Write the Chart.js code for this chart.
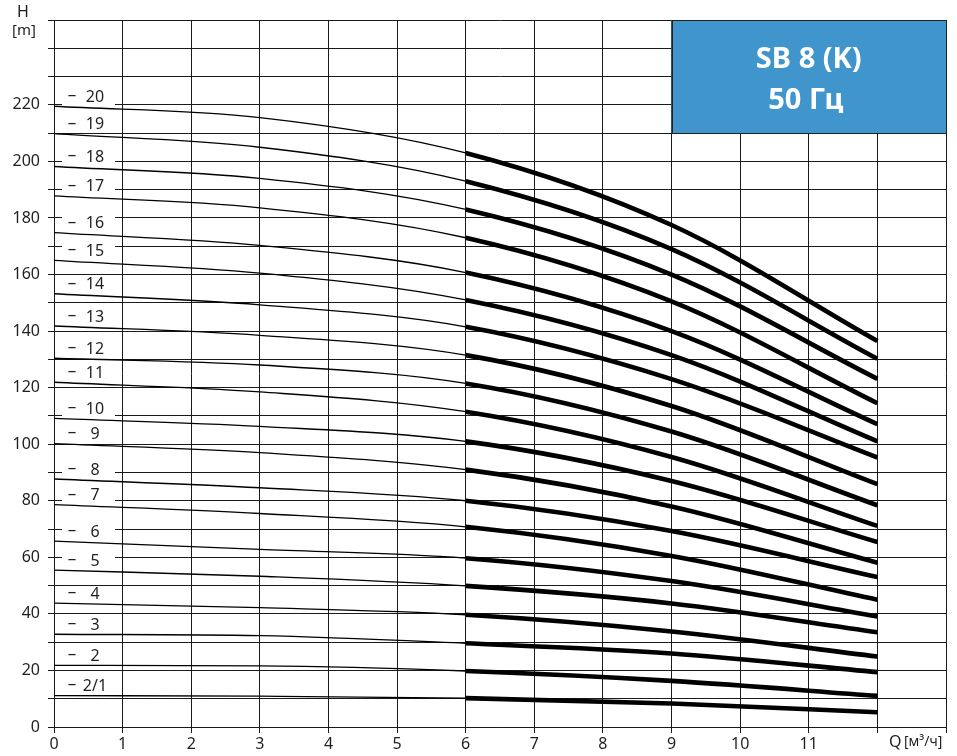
<!DOCTYPE html>
<html>
<head>
<meta charset="utf-8">
<script src="https://cdn.jsdelivr.net/npm/chart.js@4/dist/chart.umd.min.js"></script>
<style>
  html, body { margin: 0; padding: 0; background: #ffffff; }
  #wrap { width: 957px; height: 756px; position: relative; }
</style>
</head>
<body>
<div id="wrap"><canvas id="c" width="957" height="756"></canvas></div>
<script>
// ---- data ----
const flowQ = [0, 3, 6, 9, 12];           // Q [м³/ч] sample points
const stageLabels = ['20','19','18','17','16','15','14','13','12','11','10','9','8','7','6','5','4','3','2','2/1'];
const h20  = [219.5, 215.5, 203.0, 177.5, 136.5];
const h19  = [209.8, 205.0, 193.0, 169.0, 130.2];
const h18  = [198.2, 194.0, 183.0, 160.0, 123.1];
const h17  = [187.8, 183.6, 173.0, 150.5, 114.5];
const h16  = [174.8, 170.3, 160.7, 140.0, 107.1];
const h15  = [165.0, 160.5, 151.0, 131.5, 101.0];
const h14  = [153.2, 149.3, 141.5, 123.0, 95.3];
const h13  = [141.8, 138.5, 131.5, 113.5, 85.9];
const h12  = [130.4, 128.0, 121.5, 104.5, 78.4];
const h11  = [121.9, 118.5, 111.5, 95.5, 71.1];
const h10  = [109.1, 106.3, 101.0, 87.0, 65.4];
const h9   = [100.2, 97.0, 91.0, 78.0, 58.1];
const h8   = [87.7, 84.6, 80.0, 69.3, 53.0];
const h7   = [78.6, 75.5, 70.8, 60.5, 45.0];
const h6   = [65.7, 62.8, 59.7, 51.6, 39.1];
const h5   = [55.5, 53.3, 49.9, 43.7, 33.5];
const h4   = [43.8, 42.2, 39.7, 33.8, 24.9];
const h3   = [32.8, 32.3, 29.6, 26.0, 19.4];
const h2   = [21.8, 21.6, 19.8, 16.3, 11.0];
const h2_1 = [11.1, 10.9, 10.2, 8.3, 5.2];
const headSeries = [h20, h19, h18, h17, h16, h15, h14, h13, h12, h11, h10, h9, h8, h7, h6, h5, h4, h3, h2, h2_1];
const xTickLabels = [0,1,2,3,4,5,6,7,8,9,10,11];
const yTickLabels = [0,20,40,60,80,100,120,140,160,180,200,220];
const titleLines = ['SB 8 (K)', '50 Гц'];
const splitQ = 6; // thin line up to here, thick after

// ---- style ----
const FONT = '"Noto Sans", "Open Sans", "DejaVu Sans", sans-serif';
const INK = '#1f1f1f';
const GRID = '#1a1a1a';
const BLUE = '#3f95cc';

const datasets = headSeries.map((h, k) => ({
  label: stageLabels[k],
  data: flowQ.map((q, i) => ({ x: q, y: h[i] })),
  borderColor: '#000', borderWidth: 1.3, pointRadius: 0,
  cubicInterpolationMode: 'monotone', fill: false, borderCapStyle: 'butt',
  segment: {
    borderWidth: c => (c.p0.parsed.x >= splitQ ? 4.6 : 1.3)
  }
}));

const labelPlugin = {
  id: 'stageLabels',
  beforeDatasetsDraw(chart) {
    const ctx = chart.ctx;
    const xs = chart.scales.x, ys = chart.scales.y;
    const x0 = xs.getPixelForValue(0);
    ctx.save();
    headSeries.forEach((h, k) => {
      const yc = ys.getPixelForValue(h[0]) - 9;
      ctx.fillStyle = '#ffffff';
      ctx.fillRect(x0 + 8, yc - 8, 53, 16);
      ctx.fillStyle = INK;
      ctx.font = '17px ' + FONT;
      ctx.textAlign = 'center';
      ctx.textBaseline = 'middle';
      ctx.fillText('–', x0 + 18, yc - 2);
      ctx.font = '16px ' + FONT;
      ctx.fillText(stageLabels[k], x0 + 41, yc);
    });
    ctx.restore();
  },
  afterDraw(chart) {
    const ctx = chart.ctx;
    const xs = chart.scales.x, ys = chart.scales.y;
    ctx.save();
    // title box
    const bx0 = xs.getPixelForValue(9), bx1 = xs.getPixelForValue(13);
    const by0 = ys.getPixelForValue(250), by1 = ys.getPixelForValue(210);
    ctx.fillStyle = BLUE;
    ctx.fillRect(bx0, by0, bx1 - bx0, by1 - by0);
    ctx.strokeStyle = '#222';
    ctx.lineWidth = 1;
    ctx.strokeRect(Math.round(bx0) + 0.5, Math.round(by0) + 0.5, Math.round(bx1 - bx0), Math.round(by1 - by0));
    ctx.fillStyle = '#ffffff';
    ctx.font = 'bold 29px ' + FONT;
    ctx.textAlign = 'center';
    ctx.textBaseline = 'middle';
    const cx = (bx0 + bx1) / 2;
    ctx.fillText(titleLines[0], cx, by0 + 40);
    ctx.fillText(titleLines[1], cx - 3, by0 + 81);
    // axis titles
    ctx.fillStyle = INK;
    ctx.font = '16px ' + FONT;
    ctx.fillText('H', 23, 12);
    ctx.font = '15px ' + FONT;
    ctx.fillText('[m]', 24, 31);
    ctx.textAlign = 'left';
    ctx.font = '16px ' + FONT;
    ctx.fillText('Q', 889, 742);
    ctx.font = '14px ' + FONT;
    ctx.fillText('[м³/ч]', 904, 742);
    ctx.restore();
  }
};

new Chart(document.getElementById('c'), {
  type: 'line',
  data: { datasets },
  options: {
    responsive: false,
    animation: false,
    devicePixelRatio: 1,
    layout: { padding: { top: 20, right: 11, left: 0, bottom: 0 } },
    plugins: { legend: { display: false }, tooltip: { enabled: false } },
    scales: {
      x: {
        type: 'linear', min: 0, max: 13,
        afterFit: s => { s.height = 29; },
        ticks: {
          stepSize: 1, autoSkip: false, maxRotation: 0, padding: 2,
          color: INK, font: { family: FONT, size: 16 },
          callback: v => xTickLabels.includes(v) ? String(v) : ''
        },
        grid: { color: GRID, lineWidth: 1, tickLength: 6, tickColor: GRID },
        border: { display: true, color: GRID, width: 1 }
      },
      y: {
        type: 'linear', min: 0, max: 250,
        afterFit: s => { s.width = 54; },
        ticks: {
          stepSize: 10, autoSkip: false, padding: 8,
          color: INK, font: { family: FONT, size: 16 },
          callback: v => yTickLabels.includes(v) ? String(v) : ''
        },
        grid: { color: GRID, lineWidth: 1, tickLength: 6, tickColor: GRID },
        border: { display: true, color: GRID, width: 1 }
      }
    }
  },
  plugins: [labelPlugin]
});
</script>
</body>
</html>
